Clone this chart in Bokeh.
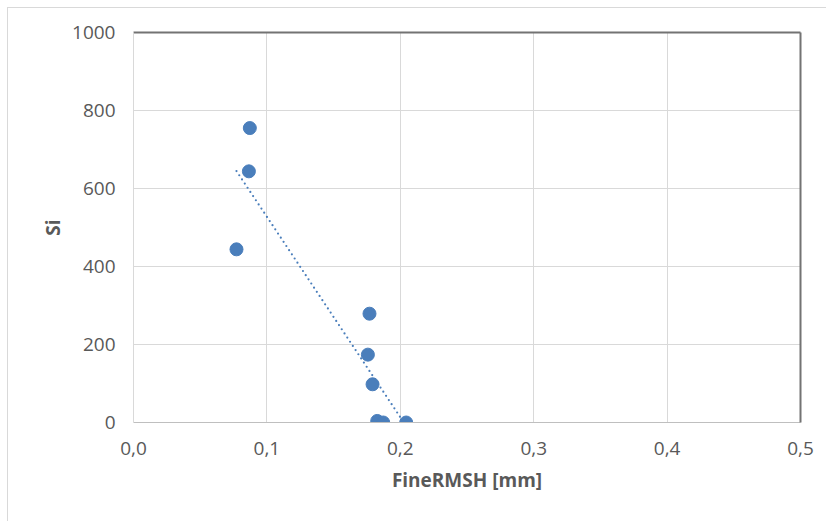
import numpy as np
from bokeh.plotting import figure
from bokeh.models import (ColumnDataSource, LinearAxis, FixedTicker, CustomJSTickFormatter,
                          Range1d)
from bokeh.embed import file_html
from bokeh.resources import INLINE

# data
fine_rmsh = [0.0772, 0.0865, 0.0872, 0.1769, 0.1757, 0.1792, 0.1827, 0.1872, 0.2044]
si_values = [444, 644, 755, 279, 174, 98, 4, 0, 0]
x_ticks = [0.0, 0.1, 0.2, 0.3, 0.4, 0.5]
y_ticks = [0, 200, 400, 600, 800, 1000]

FONT = "Open Sans"
BLUE = "#4a7ebb"

# linear trendline (least squares), clipped at the x-axis like Excel
slope, intercept = np.polyfit(fine_rmsh, si_values, 1)
x0 = min(fine_rmsh)
x1 = min(max(fine_rmsh), -intercept / slope)
trend_x = [x0, x1]
trend_y = [slope * x0 + intercept, slope * x1 + intercept]

W, H = 823, 518
p = figure(width=W, height=H, output_backend="svg", toolbar_location=None,
           x_range=Range1d(0, 0.5), y_range=Range1d(0, 1000),
           min_border_left=125, min_border_right=31, min_border_top=24, min_border_bottom=104)
p.styles = {"margin-left": "7px", "margin-top": "7px", "border": "1px solid #d9d9d9"}
p.outline_line_color = None
p.background_fill_color = "white"
p.border_fill_color = "white"

# axes
p.xaxis.ticker = FixedTicker(ticks=x_ticks)
p.yaxis.ticker = FixedTicker(ticks=y_ticks)
p.xaxis.formatter = CustomJSTickFormatter(code="return tick.toFixed(1).replace('.', ',');")
for ax in (p.xaxis[0], p.yaxis[0]):
    ax.major_tick_line_color = None
    ax.minor_tick_line_color = None
    ax.major_label_text_font = FONT
    ax.major_label_text_font_size = "19px"
    ax.major_label_text_color = "#595959"
    ax.axis_label_text_font = FONT
    ax.axis_label_text_font_style = "bold"
    ax.axis_label_text_font_size = "19px"
    ax.axis_label_text_color = "#595959"
p.xaxis.axis_line_color = "#bfbfbf"
p.yaxis.axis_line_color = "#d9d9d9"
p.xaxis.axis_label = "FineRMSH [mm]"
p.yaxis.axis_label = "Si"
p.xaxis.major_label_standoff = 13
p.yaxis.major_label_standoff = 12
p.xaxis.axis_label_standoff = 9
p.yaxis.axis_label_standoff = 3

# dark top and right frame lines
for side in ("above", "right"):
    ax = LinearAxis(ticker=FixedTicker(ticks=[]), axis_line_color="#737373", axis_line_width=2,
                    major_tick_line_color=None, minor_tick_line_color=None,
                    major_label_text_font_size="0px")
    p.add_layout(ax, side)

p.grid.grid_line_color = "#d9d9d9"
p.xgrid.ticker = FixedTicker(ticks=x_ticks)
p.ygrid.ticker = FixedTicker(ticks=y_ticks)

src = ColumnDataSource(dict(x=fine_rmsh, y=si_values))
p.line(trend_x, trend_y, line_color=BLUE, line_width=2.2, line_dash="0 5", line_cap="round")
p.scatter("x", "y", source=src, size=13, fill_color=BLUE, line_color=BLUE)

open("out.html", "w").write(file_html(p, INLINE))
